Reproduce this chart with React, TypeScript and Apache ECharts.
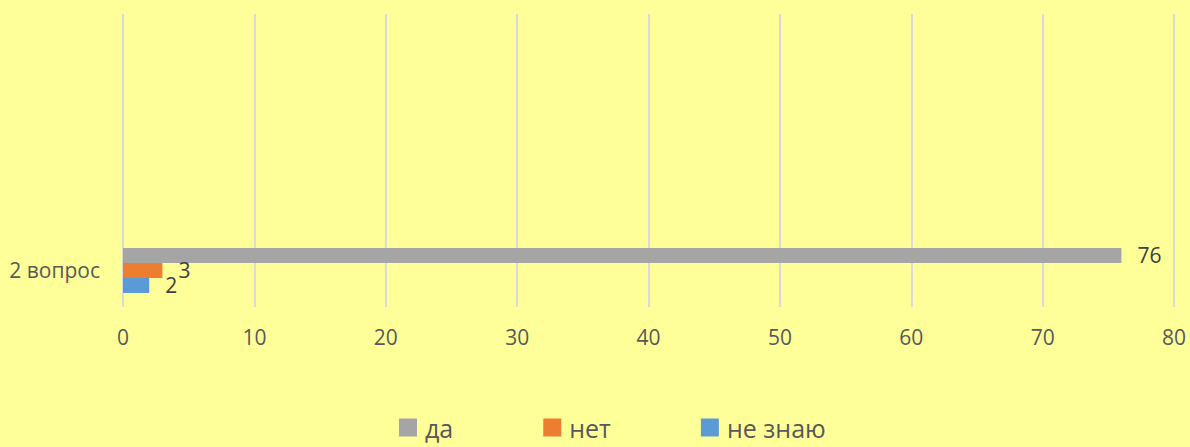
import React, { useEffect, useRef } from "react";
import * as echarts from "echarts";

const categories = ["2 вопрос", "", "", ""];
const seriesNames = ["да", "нет", "не знаю"];
const yesValues = [76, null, null, null];
const noValues = [3, null, null, null];
const dontKnowValues = [2, null, null, null];
const colors = ["#A5A5A5", "#ED7D31", "#5B9BD5"];

export default function App() {
  const ref = useRef<HTMLDivElement>(null);
  useEffect(() => {
    if (!ref.current) return;
    const chart = echarts.init(ref.current, undefined, { renderer: "svg" });
    const font = "Open Sans";
    const label = {
      show: true,
      position: "right" as const,
      distance: 16,
      color: "#404040",
      fontSize: 21,
      fontFamily: font,
    };
    const mk = (name: string, data: any[], color: string) => ({
      name,
      type: "bar" as const,
      data,
      barWidth: 15,
      barGap: "0%",
      itemStyle: { color },
      label,
    });
    chart.setOption({
      animation: false,
      backgroundColor: "#FFFF99",
      textStyle: { fontFamily: font },
      grid: { left: 123, right: 16, top: 14, bottom: 140, containLabel: false },
      legend: {
        data: seriesNames,
        top: 410,
        left: 394,
        itemWidth: 18,
        itemHeight: 18,
        itemGap: 90,
        icon: "rect",
        textStyle: { fontSize: 25, color: "#595959", fontFamily: font, padding: [0, 0, 0, 3] },
      },
      xAxis: {
        type: "value",
        min: 0,
        max: 80,
        interval: 10,
        axisLine: { show: false },
        axisTick: { show: false },
        splitLine: { show: true, lineStyle: { color: "#D9D9D9", width: 2 } },
        axisLabel: { fontSize: 21, color: "#595959", margin: 19, fontFamily: font },
      },
      yAxis: {
        type: "category",
        data: categories,
        axisLine: { show: false },
        axisTick: { show: false },
        splitLine: { show: false },
        axisLabel: { fontSize: 21, color: "#595959", margin: 23, fontFamily: font },
      },
      series: [
        mk(seriesNames[0], yesValues, colors[0]),
        mk(seriesNames[1], noValues, colors[1]),
        mk(seriesNames[2], dontKnowValues, colors[2]),
      ],
    });
    return () => chart.dispose();
  }, []);
  return (
    <div
      ref={ref}
      style={{ position: "fixed", left: 0, top: 0, width: 1190, height: 447 }}
    />
  );
}
